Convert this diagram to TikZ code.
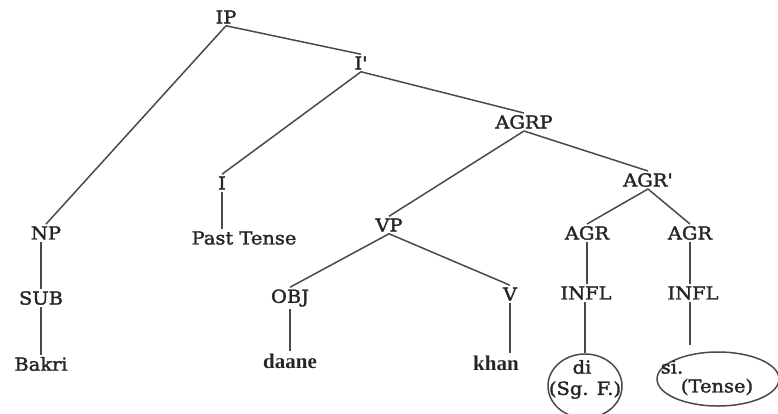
\documentclass[tikz,border=0pt]{standalone}
\usepackage{fontspec}
\setmainfont{DejaVu Serif}[FakeStretch=1.08, FakeBold=1.8, Ligatures=TeXOff]
\newfontfamily\wordfont{Liberation Serif}
\usetikzlibrary{shapes.geometric}
\definecolor{ink}{HTML}{262626}
\definecolor{edge}{HTML}{4A4A4A}
\tikzset{
  cat/.style={inner sep=2pt, text=ink, font=\fontsize{18}{20}\selectfont},
  word/.style={inner sep=2pt, text=ink, font=\wordfont\bfseries\fontsize{21}{23}\selectfont},
  branch/.style={draw=edge, line width=1.5pt},
  ring/.style={draw=edge, line width=1.5pt, ellipse, inner sep=0pt},
}
\begin{document}
\begin{tikzpicture}[x=1pt, y=-1pt]
\useasboundingbox[fill=white] (0,0) rectangle (778,413);

% upper spine
\node[cat] (IP)   at (226,17)  {IP};
\node[cat] (Ibar) at (361,63)  {I'};
\node[cat] (AGRP) at (524,122) {AGRP};
\node[cat] (AGRbar) at (648,180) {AGR'};

% subject branch
\node[cat] (NP)  at (46,233)  {NP};
\node[cat] (SUB) at (41,298)  {SUB};
\node[cat] (Bakri) at (41,364) {Bakri};

% inflection head
\node[cat] (I)  at (222,183) {I};
\node[cat] (Past) at (244,238) {Past Tense};

% verb phrase
\node[cat] (VP)  at (389,225) {VP};
\node[cat] (OBJ) at (290,298) {OBJ};
\node[word] (daane) at (290,361) {daane};
\node[cat] (V)   at (510,294) {V};
\node[word] (khan) at (496,363) {khan};

% agreement heads
\node[cat] (AGRa) at (587,233) {AGR};
\node[cat] (AGRb) at (690,233) {AGR};
\node[cat] (INFLa) at (586,293) {INFL};
\node[cat] (INFLb) at (693,293) {INFL};

% circled morphemes
\node[ring, minimum width=74pt, minimum height=64pt] (ringA) at (585,386) {};
\node[cat] (di)  at (582,367) {di};
\node[cat] (sgf) at (585,390) {(Sg. F.)};
\node[ring, minimum width=122pt, minimum height=54pt] (ringB) at (718,379) {};
\node[cat] (si)  at (672,367) {si.};
\node[cat] (tense) at (717,387) {(Tense)};
\coordinate (siTop) at (690,345);

% branches
\draw[branch] (IP.south) -- (Ibar.north);
\draw[branch] (IP.south) -- (NP.north);
\draw[branch] (Ibar.south) -- (AGRP.north);
\draw[branch] (Ibar.south) -- (I.north);
\draw[branch] (I.south) -- (I.south |- Past.north);
\draw[branch] (NP.south -| SUB) -- (SUB.north);
\draw[branch] (SUB.south) -- (Bakri.north);
\draw[branch] (AGRP.south) -- (VP.north);
\draw[branch] (AGRP.south) -- (AGRbar.north);
\draw[branch] (VP.south) -- (OBJ.north);
\draw[branch] (VP.south) -- (V.north);
\draw[branch] (OBJ.south) -- (daane.north);
\draw[branch] (V.south) -- (V.south |- khan.north);
\draw[branch] (AGRbar.south) -- (AGRa.north);
\draw[branch] (AGRbar.south) -- (AGRb.north);
\draw[branch] (AGRa.south) -- (AGRa.south |- INFLa.north);
\draw[branch] (AGRb.south) -- (AGRb.south |- INFLb.north);
\draw[branch] (INFLa.south -| ringA) -- (ringA.north);
\draw[branch] (INFLb.south -| siTop) -- (siTop);
\end{tikzpicture}
\end{document}
